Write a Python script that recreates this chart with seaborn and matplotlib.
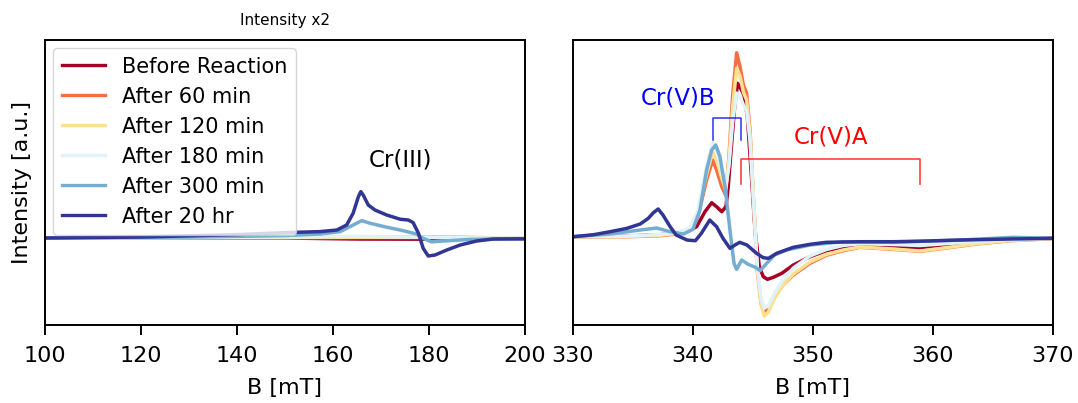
import numpy as np
import pandas as pd
import matplotlib
matplotlib.use("Agg")
import matplotlib.pyplot as plt
import seaborn as sns

# ---- data -------------------------------------------------------------
labels = ["Before Reaction", "After 60 min", "After 120 min",
          "After 180 min", "After 300 min", "After 20 hr"]

# low-field region (raw intensity, shown multiplied by LOW_SCALE)
LOW_SCALE = 2
low_b_flat = [100, 150, 165, 180, 190, 200]
low_i_before = [0.0, 0.0, -0.005, -0.006, 0.0, 0.0]
low_i_60 = [0.0, 0.003, 0.005, 0.005, 0.002, 0.0]
low_i_120 = [0.0, 0.002, 0.003, 0.003, 0.001, 0.0]
low_i_180 = [0.0, 0.005, 0.008, 0.004, 0.0, 0.0]

low_b_300 = [100, 130, 150, 157.3, 161.5, 164.2, 166.0, 167.7, 171.2, 174.6,
             177.4, 178.8, 180.55, 183.7, 188.5, 193.4, 200]
low_i_300 = [0.0, 0.005, 0.012, 0.02, 0.032, 0.065, 0.087, 0.074, 0.054,
             0.037, 0.02, -0.002, -0.019, -0.014, -0.007, -0.005, -0.004]

low_b_20h = [100, 120, 140, 150, 157.3, 160.8, 162.85, 164.2, 165.3, 165.8,
             166.3, 167.35, 168.75, 171.2, 174.0, 175.7, 176.7, 177.8, 178.8,
             179.85, 181.25, 183.7, 186.5, 189.9, 193.4, 200]
low_i_20h = [0.0, 0.005, 0.017, 0.027, 0.032, 0.04, 0.065, 0.124, 0.207,
             0.232, 0.215, 0.165, 0.14, 0.115, 0.094, 0.09, 0.077, 0.024,
             -0.052, -0.09, -0.085, -0.06, -0.035, -0.015, -0.005, -0.004]

# g~2 region
hi_b_before = [330.03, 334.5, 337.25, 339.5, 340.3, 341.0, 341.56, 341.97, 342.4,
               342.75, 342.94, 343.2, 343.5, 343.72, 343.97, 344.25, 344.53,
               344.8, 345.17, 345.53, 345.86, 346.2, 346.7, 347.4, 348.36,
               349.75, 351.1, 352.5, 353.9, 356.7, 358.9, 360.9, 363.6, 366.4,
               369.9]
hi_i_before = [0.013, 0.02, 0.033, 0.063, 0.113, 0.263, 0.353, 0.313, 0.263,
               0.313, 0.513, 0.913, 1.347, 1.547, 1.497, 1.43, 1.213, 0.747,
               0.08, -0.287, -0.387, -0.413, -0.393, -0.353, -0.27, -0.187,
               -0.127, -0.093, -0.077, -0.087, -0.107, -0.08, -0.047, -0.02,
               -0.003]

hi_b_late = [330.03, 334.5, 337.25, 338.6, 339.75, 340.4, 341.14, 341.64, 341.97,
             342.4, 342.72, 343.0, 343.3, 343.64, 343.92, 344.2, 344.47, 344.75,
             345.03, 345.36, 345.67, 345.94, 346.28, 346.8, 347.5, 348.36,
             349.75, 351.1, 352.5, 353.9, 356.7, 358.9, 360.9, 363.6, 366.4,
             369.9]
hi_i_60 = [0.013, 0.013, 0.023, 0.04, 0.08, 0.213, 0.58, 0.78, 0.68, 0.513,
           0.43, 0.813, 1.413, 1.853, 1.713, 1.53, 1.447, 1.08, 0.413, -0.32,
           -0.653, -0.753, -0.703, -0.587, -0.47, -0.37, -0.253, -0.173,
           -0.127, -0.093, -0.113, -0.133, -0.103, -0.06, -0.027, -0.007]
hi_i_120 = [0.013, 0.015, 0.027, 0.045, 0.09, 0.24, 0.64, 0.86, 0.78, 0.60,
            0.48, 0.78, 1.30, 1.70, 1.62, 1.46, 1.38, 1.05, 0.42, -0.30,
            -0.66, -0.78, -0.74, -0.60, -0.47, -0.36, -0.24, -0.165, -0.12,
            -0.09, -0.11, -0.13, -0.10, -0.058, -0.026, -0.006]
hi_i_180 = [0.013, 0.02, 0.035, 0.055, 0.10, 0.27, 0.72, 0.95, 0.88, 0.66,
            0.50, 0.72, 1.15, 1.45, 1.42, 1.33, 1.27, 0.98, 0.40, -0.28,
            -0.60, -0.70, -0.68, -0.55, -0.42, -0.30, -0.18, -0.115, -0.075,
            -0.058, -0.065, -0.075, -0.058, -0.036, -0.015, -0.004]

hi_b_300 = [330.03, 333.1, 335.6, 336.97, 338.1, 339.2, 340.0, 340.58, 341.14,
            341.56, 341.9, 342.25, 342.67, 343.08, 343.42, 343.64, 344.06,
            344.6, 345.2, 345.6, 346.14, 346.8, 347.8, 349.75, 352.5, 356.7,
            362.25, 366.7, 369.9]
hi_i_300 = [0.013, 0.04, 0.08, 0.10, 0.063, 0.04, 0.087, 0.28, 0.68, 0.88,
            0.93, 0.813, 0.513, 0.08, -0.253, -0.313, -0.22, -0.263, -0.293,
            -0.327, -0.253, -0.17, -0.12, -0.07, -0.037, -0.043, -0.02, 0.007,
            -0.003]

hi_b_20h = [330.03, 331.7, 333.1, 334.5, 335.6, 336.28, 336.7, 337.1, 337.5,
            338.1, 338.6, 339.5, 340.2, 340.7, 341.4, 341.97, 342.5, 343.08,
            343.5, 343.9, 344.5, 345.3, 345.86, 346.3, 346.97, 348.36, 349.75,
            351.1, 353.9, 356.7, 359.5, 362.25, 366.4, 369.9]
hi_i_20h = [0.013, 0.033, 0.063, 0.097, 0.14, 0.197, 0.253, 0.29, 0.23,
            0.113, 0.03, -0.02, -0.027, 0.047, 0.18, 0.113, -0.003, -0.103,
            -0.07, -0.043, -0.07, -0.153, -0.197, -0.203, -0.153, -0.093,
            -0.063, -0.043, -0.037, -0.037, -0.03, -0.02, -0.01, -0.003]

# ---- long-form tables ---------------------------------------------------
def frame(pairs):
    rows = []
    for lab, (b, i) in zip(labels, pairs):
        rows.append(pd.DataFrame({"B": b, "I": i, "sample": lab}))
    return pd.concat(rows, ignore_index=True)

low = frame([(low_b_flat, low_i_before), (low_b_flat, low_i_60),
             (low_b_flat, low_i_120), (low_b_flat, low_i_180),
             (low_b_300, low_i_300), (low_b_20h, low_i_20h)])
low["I"] = low["I"] * LOW_SCALE
high = frame([(hi_b_before, hi_i_before), (hi_b_late, hi_i_60),
              (hi_b_late, hi_i_120), (hi_b_late, hi_i_180),
              (hi_b_300, hi_i_300), (hi_b_20h, hi_i_20h)])

palette = dict(zip(labels, plt.cm.RdYlBu(np.linspace(0, 1, len(labels)))))

# ---- figure -------------------------------------------------------------
plt.rcParams["font.family"] = ["DejaVu Sans"]
plt.rcParams["font.size"] = 16
fig = plt.figure(figsize=(10.78, 4.03), dpi=100)
ax1 = fig.add_axes([0.0417, 0.1935, 0.4453, 0.7072])
ax2 = fig.add_axes([0.5315, 0.1935, 0.4453, 0.7072])

ylim = (-0.87, 1.98)
for ax, df, xlim, ticks in [(ax1, low, (100, 200), np.arange(100, 201, 20)),
                            (ax2, high, (330, 370), np.arange(330, 371, 10))]:
    sns.lineplot(data=df, x="B", y="I", hue="sample", hue_order=labels,
                 palette=palette, estimator=None, sort=False, linewidth=2.5,
                 ax=ax, legend=(ax is ax1))
    ax.set_xlim(*xlim)
    ax.set_ylim(*ylim)
    ax.set_xticks(ticks)
    ax.set_yticks([])
    ax.set_xlabel("B [mT]", fontsize=16, labelpad=9)
    ax.set_ylabel("")
    ax.tick_params(axis="x", length=7, width=1.4, labelsize=16, pad=8)
    for s in ax.spines.values():
        s.set_linewidth(1.4)

ax1.set_ylabel("Intensity [a.u.]", fontsize=16, labelpad=9)
ax1.set_title("Intensity x2", fontsize=11, pad=11)
leg = ax1.legend(loc="upper left", fontsize=15, handlelength=2.1,
                 borderaxespad=0.4, labelspacing=0.48)
for line in leg.get_lines():
    line.set_linewidth(2.4)
ax1.text(174, 0.78, "Cr(III)", ha="center", va="center", fontsize=16.5)

# hyperfine markers
ax2.plot([341.67, 341.67, 344.0, 344.0], [0.98, 1.20, 1.20, 0.98],
         color="blue", lw=1.2, alpha=0.75)
ax2.text(338.75, 1.40, "Cr(V)B", color="blue", ha="center", va="center",
         fontsize=16.5)
ax2.plot([344.0, 344.0, 358.9, 358.9], [0.54, 0.79, 0.79, 0.54],
         color="red", lw=1.2, alpha=0.75)
ax2.text(351.5, 1.01, "Cr(V)A", color="red", ha="center", va="center",
         fontsize=16.5)

fig.savefig("out.png", dpi=100)
